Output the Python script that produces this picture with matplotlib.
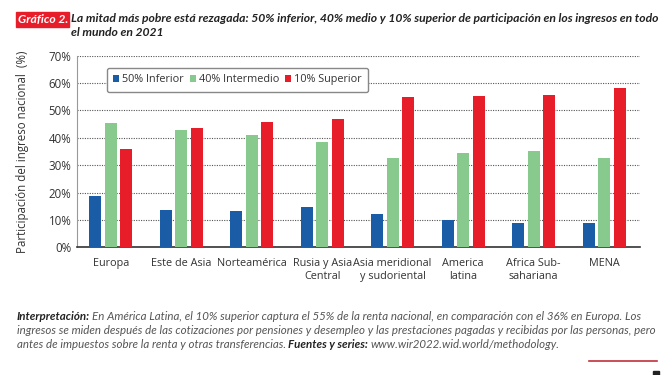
import matplotlib
matplotlib.use("Agg")
import matplotlib.pyplot as plt
import numpy as np
from matplotlib.patches import Rectangle

plt.rcParams['font.family'] = ['Lato', 'DejaVu Sans']

# datos del gráfico
regiones = ['Europa', 'Este de Asia', 'Norteamérica', 'Rusia y Asia\nCentral',
            'Asia meridional\ny sudoriental', 'America\nlatina', 'Africa Sub-\nsahariana', 'MENA']
inferior_50 = [18.7, 13.7, 13.1, 14.6, 12.2, 10.0, 8.8, 8.9]
intermedio_40 = [45.3, 42.7, 41.0, 38.6, 32.7, 34.3, 35.3, 32.7]
superior_10 = [35.8, 43.5, 45.8, 46.8, 54.8, 55.4, 55.8, 58.1]
series = [('50% Inferior', inferior_50, '#1a5ca6'),
          ('40% Intermedio', intermedio_40, '#88c98e'),
          ('10% Superior', superior_10, '#e81d2a')]
yticks = [0, 10, 20, 30, 40, 50, 60, 70]

fuente_eje = ['Open Sans', 'DejaVu Sans']

fig = plt.figure(figsize=(6.64, 3.75), dpi=100)
ax = fig.add_axes([77 / 664, 1 - 247.3 / 375, (640 - 77) / 664, (247.3 - 55.7) / 375])

x = np.arange(len(regiones))
ancho = 0.17
paso = 0.22
for i, (nombre, valores, color) in enumerate(series):
    ax.bar(x + (i - 1) * paso, valores, width=ancho, color=color, label=nombre, zorder=3)

ax.set_ylim(0, 70)
ax.set_xlim(-0.48, 7.51)
ax.set_yticks(yticks)
ax.set_yticklabels([f'{v}%' for v in yticks], fontsize=8.3, color='#333333', family=fuente_eje)
ax.set_xticks(x)
ax.set_xticklabels(regiones, fontsize=7.8, color='#333333', linespacing=1.15, family=fuente_eje)
ax.tick_params(axis='both', length=0, pad=4)
ax.tick_params(axis='x', pad=8)
ax.yaxis.grid(True, linestyle=(0, (1, 1.2)), color='#555555', linewidth=0.8, zorder=0)
for s in ['top', 'right']:
    ax.spines[s].set_visible(False)
ax.spines['left'].set_color('#999999')
ax.spines['left'].set_linewidth(0.8)
ax.spines['bottom'].set_color('#333333')
ax.spines['bottom'].set_linewidth(1.2)
ax.set_ylabel('Participación del ingreso nacional  (%)', fontsize=8.3, color='#333333',
              labelpad=14, family=fuente_eje)

leg = ax.legend(loc='upper left', bbox_to_anchor=(0.043, 0.965), ncol=3,
                prop={'family': fuente_eje, 'size': 7.8},
                frameon=True, fancybox=True, handlelength=0.55, handleheight=0.55,
                handletextpad=0.25, columnspacing=0.6, borderpad=0.6, labelcolor='#333333')
leg.get_frame().set_edgecolor('#888888')
leg.get_frame().set_linewidth(1.0)
leg.get_frame().set_alpha(1)

fig.canvas.draw()
renderer = fig.canvas.get_renderer()


def texto_en_linea(partes, x0, y, size):
    # escribe trozos de texto uno tras otro en la misma línea
    xp = x0
    for txt, bold, color in partes:
        t = fig.text(xp / 664, 1 - y / 375, txt, fontsize=size, style='italic',
                     fontweight='bold' if bold else 'normal', color=color, va='center')
        bb = t.get_window_extent(renderer)
        xp += bb.width + size * 0.25


# título
fig.patches.append(Rectangle((16 / 664, 1 - 27 / 375), 53 / 664, 15 / 375,
                             transform=fig.transFigure, color='#e81d2a'))
fig.text(18 / 664, 1 - 19 / 375, 'Gráfico 2.', fontsize=8.7, fontweight='bold', style='italic',
         color='white', va='center')
fig.text(71 / 664, 1 - 19 / 375,
         'La mitad más pobre está rezagada: 50% inferior, 40% medio y 10% superior de participación en los ingresos en todo',
         fontsize=8.7, fontweight='bold', style='italic', color='#222222', va='center')
fig.text(71 / 664, 1 - 33 / 375, 'el mundo en 2021',
         fontsize=8.7, fontweight='bold', style='italic', color='#222222', va='center')

# nota
gris = '#555555'
negro = '#222222'
tam = 8.3
texto_en_linea([('Interpretación:', True, negro),
                ('En América Latina, el 10% superior captura el 55% de la renta nacional, en comparación con el 36% en Europa. Los', False, gris)],
               17, 316, tam)
texto_en_linea([('ingresos se miden después de las cotizaciones por pensiones y desempleo y las prestaciones pagadas y recibidas por las personas, pero', False, gris)],
               17, 330.5, tam)
texto_en_linea([('antes de impuestos sobre la renta y otras transferencias.', False, gris),
                ('Fuentes y series:', True, negro),
                ('www.wir2022.wid.world/methodology.', False, gris)],
               17, 345, tam)

fig.lines.append(plt.Line2D([589 / 664, 657 / 664], [1 - 361 / 375, 1 - 361 / 375],
                            transform=fig.transFigure, color='#c0303a', linewidth=1.2))
fig.patches.append(Rectangle((653 / 664, 0), 6 / 664, 4 / 375,
                             transform=fig.transFigure, color='#222222'))

fig.savefig('out.png', dpi=100)
